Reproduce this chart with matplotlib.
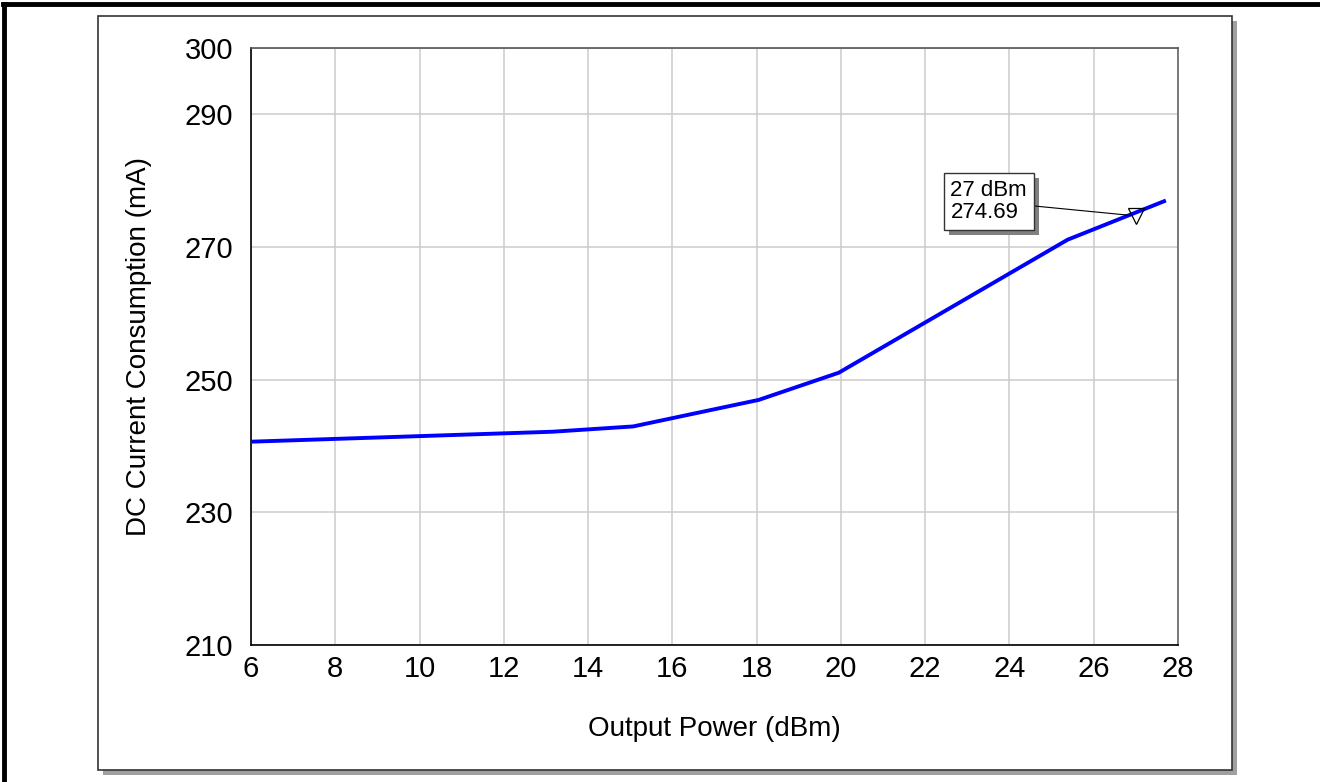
import matplotlib.pyplot as plt
from matplotlib.patches import Rectangle
from matplotlib.lines import Line2D

plt.rcParams['font.family'] = ['Liberation Sans', 'DejaVu Sans']

# output power sweep (dBm) vs DC current (mA)
pout = [6.0, 13.15, 15.07, 18.05, 19.95, 25.38, 27.67]
idc = [240.65, 242.15, 242.95, 246.95, 251.05, 271.1, 276.9]

marker_x = 27
marker_y = 274.69
marker_text = '27 dBm\n274.69'

xticks = [6, 8, 10, 12, 14, 16, 18, 20, 22, 24, 26, 28]
yticks = [210, 230, 250, 270, 290, 300]

fig = plt.figure(figsize=(13.2, 7.82), dpi=100)
W, H = 1320, 782

def fx(px):
    return px / W

def fy(py):
    return 1 - py / H

# outer frame (left and top edges only show)
fig.add_artist(Line2D([fx(4), fx(4)], [fy(4), 0], color='black', lw=3.5))
fig.add_artist(Line2D([fx(3), 1], [fy(4), fy(4)], color='black', lw=3.5))

# panel with drop shadow
fig.add_artist(Rectangle((fx(103), fy(775)), fx(1237) - fx(103), fy(21) - fy(775),
                         facecolor='#a0a0a0', edgecolor='none', zorder=0))
fig.add_artist(Rectangle((fx(98), fy(770)), fx(1232) - fx(98), fy(16) - fy(770),
                         facecolor='white', edgecolor='#333333', lw=1.2, zorder=0.5))

ax = fig.add_axes([fx(251), fy(645), fx(1178) - fx(251), fy(48) - fy(645)])
ax.set_zorder(2)

ax.plot(pout, idc, color='#0000ff', lw=2.8, solid_joinstyle='miter', zorder=3)
ax.plot([marker_x], [marker_y], marker='v', ms=11, mfc='none', mec='black',
        mew=0.9, ls='none', zorder=4)

ax.set_xlim(6, 28)
ax.set_ylim(210, 300)
ax.set_xticks(xticks)
ax.set_yticks(yticks)
ax.tick_params(axis='x', length=0, labelsize=21, pad=7)
ax.tick_params(axis='y', length=0, labelsize=21, pad=13)
ax.grid(True, color='#cccccc', lw=1.1)
ax.set_axisbelow(True)

ax.spines['left'].set_color('black')
ax.spines['bottom'].set_color('black')
ax.spines['top'].set_color('#555555')
ax.spines['right'].set_color('#666666')
for s in ax.spines.values():
    s.set_linewidth(1.2)

ax.set_xlabel('Output Power (dBm)', fontsize=20, labelpad=24)
ax.set_ylabel('DC Current Consumption (mA)', fontsize=20, labelpad=23)

# marker readout box with leader line
box_x, box_y = 22.6, 276.85
ann = ax.annotate(marker_text, xy=(marker_x, marker_y), xycoords='data',
                  xytext=(box_x, box_y), textcoords='data',
                  fontsize=16, ha='left', va='center', linespacing=1.1,
                  bbox=dict(boxstyle='square,pad=0.3', fc='white', ec='#333333', lw=1),
                  arrowprops=dict(arrowstyle='-', color='black', lw=0.8,
                                  shrinkA=0, shrinkB=3),
                  zorder=5)

# gray drop shadow under the readout box (pixel offset)
fig.canvas.draw()
bb = ann.get_bbox_patch().get_window_extent()
ax.add_patch(Rectangle((bb.x0 + 5, bb.y0 - 5), bb.width, bb.height,
                       transform=None, facecolor='#808080', edgecolor='none',
                       zorder=4.5))

fig.savefig('out.png', dpi=100)
